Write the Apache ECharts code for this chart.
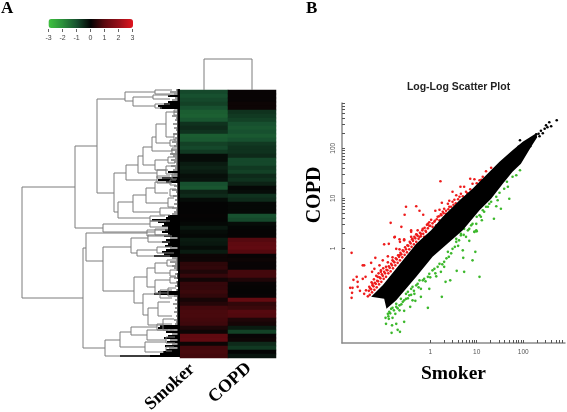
<!DOCTYPE html>
<html><head><meta charset="utf-8">
<style>html,body{margin:0;padding:0;background:#fff}#c{width:567px;height:412px}</style>
<script src="https://cdn.jsdelivr.net/npm/echarts@6/dist/echarts.min.js"></script>
</head><body><div id="c"></div>
<script>
// ---------- Panel A: heatmap ----------
const sampleNames = ['Smoker', 'COPD'];
const smokerRows = [-0.9,-1.0,-0.9,-0.8,-1.0,-1.2,-1.25,-1.1,-0.6,-0.5,-0.6,-1.2,-1.15,-0.8,-0.9,-0.7,-0.1,-0.1,-0.3,-0.4,-0.3,-0.15,-0.2,-1.0,-1.1,-0.4,-0.5,-0.1,0,0,0,0.02,0,-0.05,-0.25,-0.1,-0.05,-0.3,-0.25,-0.1,-0.3,0.1,0.1,0.45,0.5,0.3,0.55,0.15,0.55,0.55,0.6,0.5,0.2,0.35,0.7,0.75,0.75,0.7,0.65,0.3,0.1,1.0,1.05,0.1,0.7,0.75,0.7];
const copdRows = [0.05,0.05,0.05,0.1,0.1,-0.6,-0.7,-0.8,-1.0,-1.1,-1.0,-1.15,-1.0,-0.7,-0.6,-0.6,-0.5,-0.9,-0.9,-0.7,-0.8,-0.5,-0.6,-0.4,-0.05,-0.1,-0.6,-0.5,-0.05,-0.05,-0.05,-1.0,-0.9,-0.1,-0.02,0.02,0.02,0.9,1.0,1.05,0.9,0.05,0.1,0.05,0.05,0.7,0.7,0.3,0.05,0.02,0.02,0.05,1.1,0.5,0.6,0.9,0.85,0.3,0.2,-0.3,-0.8,0.05,0.1,-0.5,-0.7,0,-0.2];
const keyTicks = [-3,-2,-1,0,1,2,3];

// dendrogram joins: [join height, upper row position, upper child height, lower row position, lower child height]
const rowJoins = [
[158,97,105,208,97],[105,56,83,138,77],[83,9,55,103,66],
[55,2,25,11,47],[47,7,27,16,25],[27,5,10,9,10],[25,0,8,4,6],[25,14,10,18,18],
[66,83,54,122,62],[54,75,42,90,23],[42,66,37,83,23],[37,57,28,75,25],[28,47,24,61,8],[24,34,14,53,10],[14,22,6,47,6],
[25,70,12,80,14],[23,86,10,93,8],[23,80,12,88,8],[62,112,47,128,30],[47,105,34,122,20],[34,98,25,113,12],[25,92,10,103,12],
[12,108,6,117,6],[20,118,8,125,10],[30,126,15,131,10],[10,90,4,95,4],[10,99,4,106,4],[6,20,3,25,3],[6,44,3,50,3],[10,50,4,56,4],
[8,58,3,64,3],[12,67,5,73,5],[14,76,5,84,6],[8,84,3,89,3],
[77,134,30,142,25],[30,131,14,137,12],[25,139,12,145,10],
[97,158,94,258,75],[94,143,33,171,77],[77,157,49,201,46],[33,140,12,146,8],[49,148,32,163,43],[32,145,12,152,10],[43,160,23,166,10],[23,157,8,163,6],
[46,187,33,213,37],[33,178,25,197,25],[25,173,13,183,10],[25,190,10,203,12],[37,204,20,225,32],[32,218,22,235,17],[20,200,8,208,8],[22,212,10,226,8],[17,229,6,240,6],
[13,170,4,176,4],[10,180,4,186,4],[10,187,4,193,3],[12,198,4,206,3],
[75,250,60,266,30],[60,242,49,257,35],[49,237,23,245,33],[33,240,12,250,14],[35,252,14,262,16],[23,234,8,240,8],[14,247,5,253,5],[14,257,6,261,8]
];
// depth of the densely packed leaf branches, top to bottom
const leafDepths = [4,10,6,12,5,8,12,16,22,20,3,6,3,8,4,5,3,7,3,6,4,3,7,3,5,3,8,4,6,3,9,5,10,7,5,9,6,4,9,5,7,12,6,8,18,22,14,3,6,3,8,4,3,7,3,5,3,6,3,8,4,6,8,12,14,28,22,16,18,12,15,18,12,16,10,14,18,12,15,10,14,18,16,26,8,4,10,5,8,6,4,2,5,3,6,2,4,3,5,2,4,22,26,6,3,5,3,7,3,5,3,6,3,4,3,6,4,5,20,22,10,14,8,12,16,10,13,8,15,11,14,17,20,60];
const columnJoin = [[31,0,0,1,0]];

// ---------- Panel B: log-log scatter (log10 of signal) ----------
const denseBandLog10 = [[-1.27,-.97],[-1.02,-.74],[-.70,-.37],[-.30,.09],[.02,.36],[.27,.63],[.63,.96],[.91,1.19],[1.20,1.46],[1.49,1.73],[1.77,1.96],[1.99,2.13],[2.28,2.30],[2.30,2.22],[2.17,2.03],[1.95,1.69],[1.77,1.53],[1.56,1.29],[1.31,.99],[1.06,.76],[.70,.36],[.05,-.17],[-.30,-.57],[-.73,-1.04],[-.94,-1.21],[-.99,-1.01]];
const blackLog10 = [[2.72,2.56],[2.56,2.52],[2.49,2.46],[2.60,2.44],[2.38,2.35],[2.28,2.28],[2.17,2.19],[2.35,2.24],[2.10,2.09],[1.93,2.16],[1.85,1.96],[1.99,1.99],[1.77,1.86],[1.65,1.76],[1.52,1.69],[2.06,1.96],[2.15,2.04],[2.22,2.19],[2.46,2.39],[2.52,2.42],[2.42,2.30],[2.33,2.29],[2.05,2.11],[1.90,2.03]];
const redLog10 = [[.22,1.34],[-.52,.83],[-.30,.84],[-.55,.67],[-.23,.75],[-.15,.67],[-.85,.51],[-.62,.43],[-.41,.36],[-.77,.22],[-.56,.18],[-.66,.18],[1.20,1.54],[1.31,1.61],[.86,1.39],[.95,1.38],[.73,1.23],[.65,1.23],[.48,1.13],[.56,1.06],[.66,1.09],[.41,.95],[.25,.91],[.38,.89],[.20,.77],[.30,.79],[.11,.75],[.27,.73],[.02,.57],[.16,.63],[-.05,.49],[.09,.53],[-.16,.39],[-.02,.45],[-.27,.36],[-.20,.29],[-.34,.23],[-.09,.33],[-.23,.23],[.05,.43],[.2,.56],[.34,.69],[.48,.93],[.63,1.03],[.77,1.13],[.91,1.29],[1.06,1.36],[1.13,1.43],[-.41,.23],[-.3,.28],[-.13,.23],[.13,.46],[.23,.68],[.41,.83],[.52,.97],
[-1.69,-.09],[-.76,.23],[-1.45,-.34],[-1.42,-.34],[-1.27,-.29],[-1.18,-.19],[-1.02,-.24],[-.89,.09],[-.99,.08],[-1.58,-.57],[-1.65,-.63],[-1.72,-.79],[-1.67,-.79],[-1.56,-.67],[-1.45,-.61],[-1.39,-.57],[-1.25,-.47],[-1.56,-.77],[-1.68,-.89],[-1.69,-.99],[-1.51,-.85],[-1.42,-.91],[-1.34,-.96],[-1.20,-.41],[-1.09,-.34],[-.91,-.16],[-.73,-.01],[-.65,.13],[-.56,.16],[-.41,.33],[-.38,.19],[-.66,-.14],[-.81,-.24],[-.95,-.37],[-1.06,-.47],[-1.13,-.57],[-1.24,-.71],[-1.31,-.77],[-1.38,-.84],
[-1.30,-.93],[-1.32,-.85],[-1.29,-.80],[-1.25,-.88],[-1.27,-.82],[-1.24,-.74],[-1.26,-.68],[-1.20,-.83],[-1.22,-.76],[-1.19,-.69],[-1.21,-.62],[-1.15,-.78],[-1.17,-.71],[-1.14,-.65],[-1.16,-.55],[-1.10,-.72],[-1.12,-.66],[-1.09,-.58],[-1.11,-.50],[-1.05,-.67],[-1.07,-.60],[-1.04,-.52],[-1.06,-.44],[-1.00,-.61],[-1.02,-.55],[-.99,-.47],[-1.01,-.40],[-.95,-.57],[-.97,-.50],[-.94,-.43],[-.90,-.50],[-.92,-.44],[-.89,-.36],[-.91,-.28],[-.85,-.46],[-.87,-.39],[-.84,-.31],[-.80,-.40],[-.82,-.34],[-.79,-.26],[-.81,-.18],[-.75,-.34],[-.77,-.28],[-.74,-.20],[-.70,-.29],[-.72,-.22],[-.69,-.14],[-.65,-.24],[-.67,-.17],[-.64,-.09],[-.66,-.02],[-.60,-.18],[-.62,-.12],[-.59,-.04],[-.55,-.13],[-.57,-.06],[-.54,.02],[-.50,-.08],[-.52,-.02],[-.49,.06],[-.45,-.02],[-.47,.05],[-.44,.13],[-.40,.03],[-.42,.10],[-.39,.18],[-.35,.08],[-.37,.15],[-.30,.13],[-.32,.20],[-.29,.27],[-.25,.19],[-.27,.25],[-.20,.24],[-.22,.31],[-.15,.29],[-.17,.36],[-.10,.35],[-.12,.41],[-.05,.40],[-.07,.47],[0,.45],[-.02,.52],[.05,.50],[.10,.55],[.14,.58],[.19,.64],[.24,.66],[.29,.70],[.34,.75],[.39,.78],[.45,.83],[.50,.87],[.55,.90],[.60,.98],[.70,1.04],[.80,1.10],[.86,1.18],[1.00,1.30],[1.10,1.37]];
const greenLog10 = [[1.06,-.57],[.97,-.07],[.91,-.24],[.70,-.04],[.71,-.19],[.73,-.47],[.57,-.45],[.43,-.64],[.33,-.67],[.25,-.97],[-.05,-1.19],[-.02,-.81],[-.20,-.81],[-.56,-1.47],[-.65,-1.67],[-.70,-1.63],[-.83,-1.69],[-.73,-1.51],[-.82,-1.54],[-.95,-1.51],[-.89,-1.41],[-.96,-1.39],[-.81,-1.39],[-.75,-1.31],[-.66,-1.24],[-.56,-1.25],[-.43,-1.17],[-.38,-1.04],[-.32,-1.05],[-.20,-.97],[-.34,-.91],[-.45,-.94],[-.52,-1.01],[-.59,-1.07],[-.88,-1.27],[-.84,-1.21],[-.73,-1.17],[-.66,-1.14],[-.56,-1.04],[-.48,-.87],[-.38,-.77],[-.27,-.71],[-.16,-.64],[-.05,-.57],[.13,-.56],[.05,-.44],[.16,-.37],[.30,-.37],[.23,-.47],[.38,-.07],[.48,-.01],[.56,.13],[.66,.26],[.84,.15],[.95,.33],[1.0,.34],[.40,-.17],[.30,-.27],[.20,-.31],[.09,-.41],[-.02,-.51],[-.13,-.61],[-.23,-.64],[-.30,-.74],[-.41,-.81],[-.52,-.91],[-.63,-1.01],[-.73,-1.11],[-.81,-1.19],[-.91,-1.31],[1.93,1.56],[1.77,1.43],[1.65,1.33],[1.67,1.23],[1.59,1.19],[1.49,1.11],[1.42,1.03],[1.45,.96],[1.70,.99],[1.42,.84],[1.52,.79],[1.37,.59],[1.27,.89],[1.20,.83],[1.13,.76],[1.06,.66],[1.11,.56],[1.00,.63],[.91,.49],[.84,.39],[.99,.36],[.73,.39],[.66,.29],[.77,.23],[.56,.19],[.95,.33],[1.31,.93],[1.16,.73],[1.24,.83],[1.09,.63],[.99,.49],[.88,.46],[.81,.36],[1.85,1.46],[-.90,-1.36],[-.86,-1.30],[-.78,-1.24],[-.70,-1.20],[-.62,-1.12],[-.48,-1.00],[-.41,-.93],[-.35,-.85],[-.25,-.78],[-.10,-.66],[.00,-.58],[.11,-.50],[.26,-.32],[.35,-.20],[.45,-.10],[.53,.03],[.62,.16],[.72,.27],[.60,.05]];
const tickValues = [1,2,3,4,5,6,7,8,9,10,20,30,40,50,60,70,80,90,100,200,300,400,500,600,700,800,900];
const axisLabels = [1,10,100];

const fromLog = p => [Math.pow(10,p[0]),Math.pow(10,p[1])];

const heatData = [];
smokerRows.forEach((v,i)=>heatData.push([0,i,v]));
copdRows.forEach((v,i)=>heatData.push([1,i,v]));

const lineStyle = {stroke:'#7c7c7c',lineWidth:1,fill:null};
function renderRowJoin(params,api){
  const a=api.coord([api.value(2),api.value(1)]),b=api.coord([api.value(0),api.value(1)]),
        c=api.coord([api.value(0),api.value(3)]),d=api.coord([api.value(4),api.value(3)]);
  return {type:'polyline',shape:{points:[a,b,c,d]},style:lineStyle,silent:true};
}
function renderColJoin(params,api){
  const a=api.coord([api.value(1),api.value(2)]),b=api.coord([api.value(1),api.value(0)]),
        c=api.coord([api.value(3),api.value(0)]),d=api.coord([api.value(3),api.value(4)]);
  return {type:'polyline',shape:{points:[a,b,c,d]},style:lineStyle,silent:true};
}
function renderLeaf(params,api){
  const depth=api.value(1),y=api.value(0);
  const p0=api.coord([0,y]),p1=api.coord([depth,y]);
  const p2=api.coord([Math.min(depth,2.5),y]);
  return {type:'group',silent:true,children:[
    {type:'line',shape:{x1:p0[0],y1:p0[1],x2:p1[0],y2:p1[1]},style:{stroke:depth>=12?'#000':'#333',lineWidth:depth>=12?2:1}},
    {type:'line',shape:{x1:p0[0],y1:p0[1],x2:p2[0],y2:p2[1]},style:{stroke:'#000',lineWidth:2}}
  ]};
}
function renderBand(params,api){
  if(params.dataIndex!==0) return;
  const pts=denseBandLog10.map(p=>api.coord(fromLog(p)));
  return {type:'polygon',shape:{points:pts},style:{fill:'#000'},silent:true};
}

const chart = echarts.init(document.getElementById('c'),null,{renderer:'canvas'});
chart.setOption({
  animation:false,
  backgroundColor:'#fff',
  title:{text:'Log-Log Scatter Plot',left:453.5,top:77,textAlign:'center',
    textStyle:{fontFamily:'Liberation Sans',fontSize:10.5,fontWeight:'bold',color:'#222'}},
  visualMap:{type:'continuous',seriesIndex:0,min:-3,max:3,orient:'horizontal',left:48.5,top:19,itemWidth:9,itemHeight:84.5,
    calculable:false,realtime:false,text:['',''],padding:0,showLabel:false,
    inRange:{color:['#3fc23f','#2a8f3a','#17502f','#040404','#5e0a10','#96101a','#e0141e']}},
  grid:[
    {left:48.5,top:28,width:84,height:1},
    {left:0,top:90,width:180,height:268},
    {left:180,top:90,width:96,height:268},
    {left:180,top:59,width:96,height:31},
    {left:342,top:103,width:223,height:240}
  ],
  xAxis:[
    {gridIndex:0,type:'value',min:-3,max:3,interval:1,axisLine:{show:false},splitLine:{show:false},
      axisTick:{length:3,lineStyle:{color:'#666'}},
      axisLabel:{margin:6,fontSize:7,color:'#444',fontFamily:'Liberation Sans',customValues:keyTicks}},
    {gridIndex:1,type:'value',min:0,max:180,inverse:true,show:false},
    {gridIndex:2,type:'category',data:sampleNames,show:false},
    {gridIndex:3,type:'value',min:-0.5,max:1.5,show:false},
    {gridIndex:4,type:'log',logBase:10,min:0.0127,max:790,
      name:'Smoker',nameLocation:'middle',nameGap:21,
      nameTextStyle:{fontFamily:'Liberation Serif',fontWeight:'bold',fontSize:19.5,color:'#000'},
      axisLine:{lineStyle:{color:'#8a8a8a',width:1.5}},splitLine:{show:false},minorTick:{show:false},
      axisTick:{inside:true,length:3,lineStyle:{color:'#555'},customValues:tickValues},
      axisLabel:{margin:6,fontSize:6.5,color:'#555',fontFamily:'Liberation Sans',customValues:axisLabels}}
  ],
  yAxis:[
    {gridIndex:0,type:'value',show:false},
    {gridIndex:1,type:'value',min:0,max:268,inverse:true,show:false},
    {gridIndex:2,type:'category',data:smokerRows.map((v,i)=>i),inverse:true,show:false},
    {gridIndex:3,type:'value',min:0,max:31,show:false},
    {gridIndex:4,type:'log',logBase:10,min:0.0128,max:805,
      name:'COPD',nameLocation:'middle',nameGap:17,
      nameTextStyle:{fontFamily:'Liberation Serif',fontWeight:'bold',fontSize:20,color:'#000',padding:[0,0,0,56]},
      axisLine:{lineStyle:{color:'#8a8a8a',width:1.5}},splitLine:{show:false},minorTick:{show:false},
      axisTick:{inside:true,length:3,lineStyle:{color:'#555'},customValues:tickValues},
      axisLabel:{margin:5,fontSize:6.5,rotate:90,color:'#555',fontFamily:'Liberation Sans',customValues:axisLabels}}
  ],
  series:[
    {type:'heatmap',xAxisIndex:2,yAxisIndex:2,data:heatData,itemStyle:{borderWidth:0},emphasis:{disabled:true},progressive:0},
    {type:'custom',xAxisIndex:1,yAxisIndex:1,data:leafDepths.map((d,i)=>[i*2,d]),renderItem:renderLeaf,encode:{x:1,y:0},clip:false,z:2},
    {type:'custom',xAxisIndex:1,yAxisIndex:1,data:rowJoins,renderItem:renderRowJoin,encode:{x:[0,2,4],y:[1,3]},clip:false,z:3},
    {type:'custom',xAxisIndex:3,yAxisIndex:3,data:columnJoin,renderItem:renderColJoin,encode:{x:[1,3],y:[0,2,4]},clip:false,z:3},
    {type:'custom',xAxisIndex:4,yAxisIndex:4,data:[fromLog(denseBandLog10[0])],renderItem:renderBand,clip:true,z:4},
    {type:'scatter',name:'black',xAxisIndex:4,yAxisIndex:4,data:blackLog10.map(fromLog),symbolSize:2.6,itemStyle:{color:'#000',opacity:1},silent:true,z:5},
    {type:'scatter',name:'up',xAxisIndex:4,yAxisIndex:4,data:redLog10.map(fromLog),symbolSize:2.6,itemStyle:{color:'#ee1c1c',opacity:1},silent:true,z:3},
    {type:'scatter',name:'down',xAxisIndex:4,yAxisIndex:4,data:greenLog10.map(fromLog),symbolSize:2.6,itemStyle:{color:'#3cb82c',opacity:1},silent:true,z:3}
  ],
  graphic:[
    {type:'text',left:1,top:0,style:{text:'A',font:'bold 17px "Liberation Serif"',fill:'#000'}},
    {type:'text',left:306,top:0,style:{text:'B',font:'bold 17px "Liberation Serif"',fill:'#000'}},
    {type:'text',x:170,y:387,rotation:Math.PI*42/180,style:{text:sampleNames[0],font:'bold 18px "Liberation Serif"',fill:'#000',align:'center',verticalAlign:'middle'}},
    {type:'text',x:230,y:383,rotation:Math.PI*42/180,style:{text:sampleNames[1],font:'bold 18px "Liberation Serif"',fill:'#000',align:'center',verticalAlign:'middle'}}
  ]
});
</script></body></html>
